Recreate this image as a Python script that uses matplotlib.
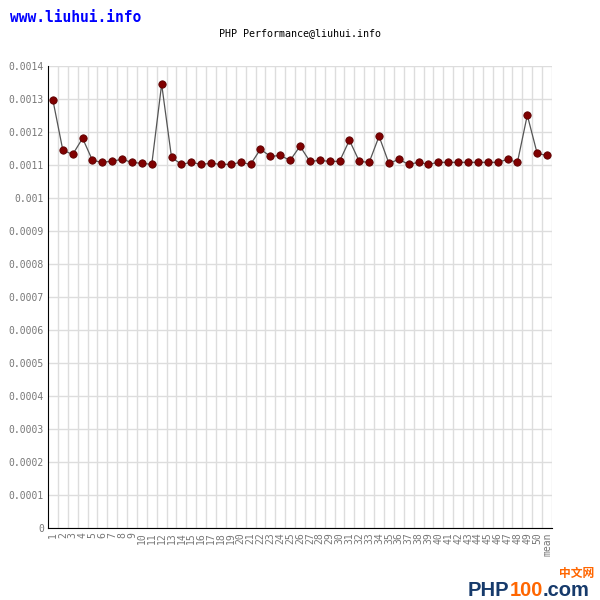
import matplotlib
matplotlib.use('Agg')
import matplotlib.pyplot as plt
from matplotlib.ticker import FixedLocator, FuncFormatter

# runs 1..50 plus the mean
rotulos = [str(i) for i in range(1, 51)] + ['mean']
tempos = [0.001296, 0.001145, 0.001132, 0.001181, 0.001114, 0.001108, 0.001112, 0.001117,
          0.001108, 0.001105, 0.001102, 0.001345, 0.001123, 0.001102, 0.001108, 0.001102,
          0.001105, 0.001102, 0.001102, 0.001108, 0.001102, 0.001148, 0.001126, 0.001129,
          0.001114, 0.001157, 0.001111, 0.001114, 0.001111, 0.001111, 0.001175, 0.001111,
          0.001108, 0.001187, 0.001105, 0.001117, 0.001102, 0.001108, 0.001102, 0.001108,
          0.001108, 0.001108, 0.001108, 0.001108, 0.001108, 0.001108, 0.001117, 0.001108,
          0.001251, 0.001135, 0.001129]
yticks = [i * 0.0001 for i in range(15)]

mono = 'DejaVu Sans Mono'
cinza = '#777777'

fig = plt.figure(figsize=(6, 6), dpi=100)
ax = fig.add_axes([0.08, 0.12, 0.84, 0.77])

x = list(range(len(tempos)))
ax.plot(x, tempos, color='#555555', lw=0.9, zorder=3)
ax.scatter(x, tempos, s=28, color='#800000', edgecolors='#5a0000', linewidths=0.6, zorder=4)

ax.set_xlim(-0.5, len(tempos) - 0.5)
ax.set_ylim(0, 0.0014)

ax.xaxis.set_major_locator(FixedLocator(x))
ax.set_xticklabels(rotulos, rotation=90, family=mono, fontsize=7, color=cinza)
ax.xaxis.set_minor_locator(FixedLocator([i + 0.5 for i in x]))
ax.grid(True, which='minor', axis='x', color='#dddddd', lw=1)

ax.yaxis.set_major_locator(FixedLocator(yticks))
ax.yaxis.set_major_formatter(FuncFormatter(lambda v, p: '0' if v == 0 else ('%.4f' % v).rstrip('0')))
for t in ax.get_yticklabels():
    t.set_family(mono)
    t.set_fontsize(7)
    t.set_color(cinza)
ax.grid(True, which='major', axis='y', color='#dddddd', lw=1)
ax.set_axisbelow(True)

ax.tick_params(which='both', length=0, pad=3)
ax.spines['top'].set_visible(False)
ax.spines['right'].set_visible(False)
ax.spines['left'].set_color('black')
ax.spines['bottom'].set_color('black')

fig.text(0.5, 0.945, 'PHP Performance@liuhui.info', ha='center', va='center',
         family=mono, fontsize=7.2, color='black')
fig.text(0.017, 0.97, 'www.liuhui.info', ha='left', va='center',
         family=mono, fontsize=10.5, weight='bold', color='#0000ff')

# logo do canto, pedaços encadeados
logo = dict(fontsize=14.5, weight='bold', family='Liberation Sans', va='bottom')
t1 = fig.text(0.78, 0.0, 'PHP', ha='left', color='#163a6b', **logo)
t2 = ax.annotate('100', xy=(1, 0), xycoords=t1, xytext=(0, 0), textcoords='offset points',
                 ha='left', color='#ff6600', annotation_clip=False, **logo)
t3 = ax.annotate('.com', xy=(1, 0), xycoords=t2, xytext=(0, 0), textcoords='offset points',
                 ha='left', color='#163a6b', annotation_clip=False, **logo)
fig.text(0.99, 0.034, '中文网', ha='right', va='bottom', fontsize=8.5, weight='bold',
         color='#ff6600', family=['Noto Sans CJK SC', 'DejaVu Sans'])

fig.savefig('out.png', dpi=100)
